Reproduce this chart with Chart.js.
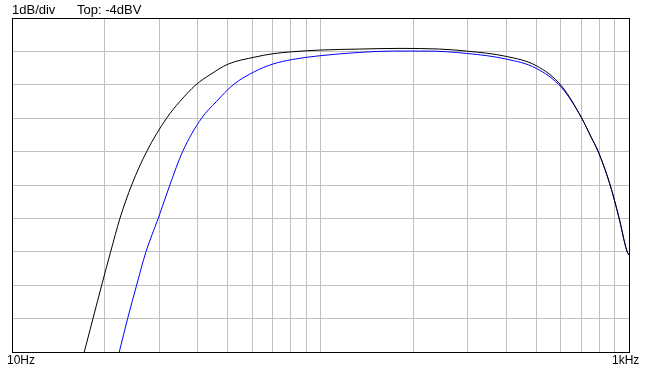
<!DOCTYPE html>
<html>
<head>
<meta charset="UTF-8">
<title>Frequency response</title>
<script src="https://cdn.jsdelivr.net/npm/chart.js"></script>
<style>
    body { margin: 0; background: #fff; }
    .wrap { position: relative; width: 648px; height: 369px; }
    .lbl { position: absolute; font-family: "Liberation Sans", Arial, sans-serif; font-size: 12px; color: #000; white-space: pre; }
    .top { font-size: 13px; top: 2px; }
</style>
</head>
<body>
<div class="wrap">
    <canvas id="resp" width="648" height="369"></canvas>
    <div class="lbl top" style="left:12px;">1dB/div</div>
    <div class="lbl top" style="left:77px;">Top: -4dBV</div>
    <div class="lbl" style="left:7px; top:353px;">10Hz</div>
    <div class="lbl" style="left:612px; top:353px;">1kHz</div>
</div>
<script>
// vertical grid lines (Hz)
const gridFreqs = [10, 20, 30, 40, 50, 60, 70, 80, 90, 100, 200, 300, 400, 500, 600, 700, 800, 900, 1000];

// black trace
const blackFreq = [17.15, 18.3, 19.53, 20.88, 22.38, 24.43, 27.32, 31.7, 35.0, 39.46, 43.8, 50.2, 61.3, 70.0, 81.3, 99.5, 134, 181, 243, 297, 400, 501, 604, 701, 755, 793, 866, 928, 984, 1000];
const blackDb   = [-14, -13, -12, -11, -10, -9, -8, -7, -6.5, -6, -5.7, -5.38, -5.17, -5.07, -5.01, -4.96, -4.93, -4.91, -4.93, -4.99, -5.15, -5.43, -6.03, -6.98, -7.58, -7.98, -8.96, -9.98, -10.97, -11.1];

// blue trace
const blueFreq = [22.27, 23.7, 25.35, 27.18, 29.78, 32.49, 35.73, 41.17, 46.0, 52.1, 61.3, 70.0, 81.3, 99.5, 134, 171, 221, 297, 400, 501, 604, 701, 755, 793, 866, 928, 984, 1000];
const blueDb   = [-14, -13, -12, -11, -10, -9, -8, -7, -6.5, -6, -5.6, -5.38, -5.24, -5.13, -5.03, -4.99, -4.99, -5.06, -5.23, -5.51, -6.08, -6.98, -7.58, -7.98, -8.96, -9.98, -10.97, -11.1];

const toPts = (xs, ys) => xs.map((f, i) => ({ x: f, y: ys[i] }));

// frame around the plot area
const framePlugin = {
    id: 'frame',
    afterDraw(chart) {
        const a = chart.chartArea;
        const ctx = chart.ctx;
        ctx.save();
        ctx.strokeStyle = '#000';
        ctx.lineWidth = 1;
        ctx.strokeRect(Math.round(a.left) + 0.5, Math.round(a.top) + 0.5,
                       Math.round(a.right - a.left), Math.round(a.bottom - a.top));
        ctx.restore();
    }
};

new Chart(document.getElementById('resp'), {
    type: 'line',
    data: {
        datasets: [
            {
                data: toPts(blackFreq, blackDb),
                borderColor: '#000000',
                borderWidth: 1,
                pointRadius: 0,
                cubicInterpolationMode: 'monotone',
                fill: false
            },
            {
                data: toPts(blueFreq, blueDb),
                borderColor: '#0000ff',
                borderWidth: 1,
                pointRadius: 0,
                cubicInterpolationMode: 'monotone',
                fill: false
            }
        ]
    },
    options: {
        responsive: false,
        animation: false,
        devicePixelRatio: 1,
        layout: { padding: { left: 12, top: 18, right: 19, bottom: 17 } },
        plugins: { legend: { display: false }, tooltip: { enabled: false } },
        scales: {
            x: {
                type: 'logarithmic',
                min: 10,
                max: 1000,
                afterBuildTicks: (s) => { s.ticks = gridFreqs.map(v => ({ value: v })); },
                ticks: { display: false },
                grid: { color: '#c0c0c0', lineWidth: 1, drawTicks: false },
                border: { display: false }
            },
            y: {
                min: -14,
                max: -4,
                ticks: { display: false, stepSize: 1 },
                grid: { color: '#c0c0c0', lineWidth: 1, drawTicks: false },
                border: { display: false }
            }
        }
    },
    plugins: [framePlugin]
});
</script>
</body>
</html>
